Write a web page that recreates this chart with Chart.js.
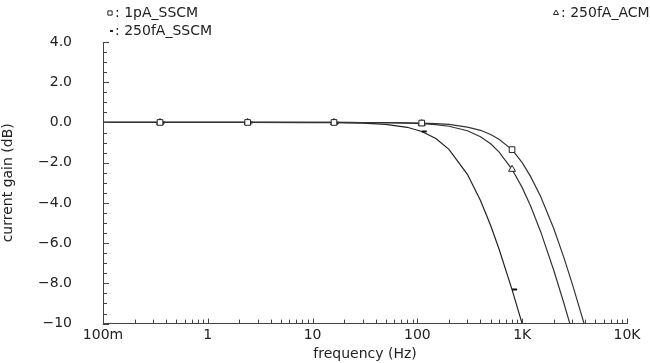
<!DOCTYPE html>
<html>
<head>
<meta charset="utf-8">
<script src="https://cdn.jsdelivr.net/npm/chart.js@4.4.1/dist/chart.umd.min.js"></script>
<style>
  html, body { margin: 0; padding: 0; background: #fff; }
  #wrap { width: 650px; height: 363px; }
</style>
</head>
<body>
<div id="wrap"><canvas id="gainChart"></canvas></div>
<script>
// frequency points (Hz) shared by all three curves
var freqs = [0.1, 0.35, 1, 2.4, 10, 16, 30, 50, 80, 110, 150, 200, 300, 400, 500, 600, 800, 1000, 1200, 1500, 2000, 2500, 3000, 4000];

// current gain (dB)
var gain1pA_SSCM   = [0, 0, 0, 0, 0, 0, -0.002, -0.006, -0.016, -0.03, -0.06, -0.10, -0.23, -0.39, -0.60, -0.84, -1.35, -2.0, -2.68, -3.68, -5.27, -6.72, -8.01, -10.2];
var gain250fA_ACM  = [0, 0, 0, 0, 0, 0, -0.004, -0.012, -0.03, -0.058, -0.11, -0.19, -0.41, -0.71, -1.06, -1.46, -2.33, -3.24, -4.14, -5.43, -7.35, -8.99, -10.4, -12.7];
var gain250fA_SSCM = [0, 0, 0, 0, -0.004, -0.01, -0.035, -0.097, -0.24, -0.45, -0.80, -1.34, -2.58, -3.88, -5.12, -6.28, -8.31, -10.01, -11.46, -13.28, null, null, null, null];

// where the curve markers sit
var markerFreqs = [0.35, 2.4, 16, 110, 800];

// axis labels
var decadeTicks = [0.1, 1, 10, 100, 1000, 10000];
var decadeLabels = ['100m', '1', '10', '100', '1K', '10K'];

var FONT = 'DejaVu Sans';
var INK = '#222';

function toPoints(vals) {
    return freqs.map(function (f, i) { return { x: f, y: vals[i] }; });
}

function markerRadius(r) {
    return function (ctx) {
        return markerFreqs.indexOf(freqs[ctx.dataIndex]) >= 0 ? r : 0;
    };
}

// small inward tick marks on both axes, like the simulator plot
var axisTicks = {
    id: 'axisTicks',
    afterDraw: function (chart) {
        var c = chart.ctx, x = chart.scales.x, y = chart.scales.y;
        var a = chart.chartArea;
        c.save();
        c.strokeStyle = '#444';
        c.lineWidth = 1;
        c.beginPath();
        // x: decades + 2..9 minors
        for (var d = 0.1; d < 10001; d *= 10) {
            for (var k = 1; k <= 9; k++) {
                var v = d * k;
                if (v > 10000.5) break;
                var px = Math.round(x.getPixelForValue(v)) + 0.5;
                var len = (k === 1) ? 5 : 4;
                c.moveTo(px, a.bottom);
                c.lineTo(px, a.bottom - len);
            }
        }
        // y: majors every 2 dB, minors every 0.5 dB
        for (var t = -10; t <= 4.001; t += 0.5) {
            var py = Math.round(y.getPixelForValue(t)) + 0.5;
            var l = (Math.abs(t % 2) < 0.01) ? 6 : 4;
            c.moveTo(a.left, py);
            c.lineTo(a.left + l, py);
        }
        c.stroke();
        c.restore();
    }
};

// legend text in the top-left / top-right like the original
var topLegend = {
    id: 'topLegend',
    afterDraw: function (chart) {
        var c = chart.ctx;
        var items = [
            { style: 'rect', label: ': 1pA_SSCM', x: 110, y: 13, w: 1 },
            { style: 'triangle', label: ': 250fA_ACM', x: 556, y: 13, w: 1 },
            { style: 'dash', label: ': 250fA_SSCM', x: 110, y: 31, w: 2 }
        ];
        c.save();
        c.font = '14px ' + FONT;
        c.textBaseline = 'middle';
        items.forEach(function (it) {
            c.strokeStyle = INK;
            c.fillStyle = '#fff';
            c.lineWidth = it.w;
            Chart.helpers.drawPoint(c, { pointStyle: it.style, radius: 3, rotation: 0, borderWidth: it.w }, it.x, it.y);
            c.fillStyle = INK;
            c.fillText(it.label, it.x + 5, it.y);
        });
        c.restore();
    }
};

var gainChart = new Chart(document.getElementById('gainChart').getContext('2d'), {
    type: 'line',
    data: {
        datasets: [{
            label: '1pA_SSCM',
            data: toPoints(gain1pA_SSCM),
            borderColor: '#333',
            backgroundColor: '#fff',
            borderWidth: 1.2,
            pointStyle: 'rect',
            pointRadius: markerRadius(4),
            pointBorderColor: '#222',
            pointBorderWidth: 1
        }, {
            label: '250fA_ACM',
            data: toPoints(gain250fA_ACM),
            borderColor: '#333',
            backgroundColor: '#fff',
            borderWidth: 1.2,
            pointStyle: 'triangle',
            pointRadius: markerRadius(4),
            pointBorderColor: '#222',
            pointBorderWidth: 1
        }, {
            label: '250fA_SSCM',
            data: toPoints(gain250fA_SSCM),
            borderColor: '#222',
            backgroundColor: '#fff',
            borderWidth: 1.2,
            pointStyle: 'dash',
            pointRadius: markerRadius(5),
            pointBorderColor: '#111',
            pointBorderWidth: 2
        }]
    },
    options: {
        responsive: true,
        maintainAspectRatio: false,
        animation: false,
        layout: { padding: { left: 0, top: 42, right: 23, bottom: 0 } },
        plugins: {
            legend: { display: false },
            tooltip: { enabled: false }
        },
        elements: { line: { tension: 0 } },
        scales: {
            x: {
                type: 'logarithmic',
                min: 0.1,
                max: 10000,
                afterBuildTicks: function (scale) {
                    scale.ticks = decadeTicks.map(function (v) { return { value: v }; });
                },
                afterFit: function (scale) { scale.height = 39; },
                ticks: {
                    autoSkip: false,
                    maxRotation: 0,
                    padding: 3,
                    color: INK,
                    font: { family: FONT, size: 14 },
                    callback: function (v) {
                        var i = decadeTicks.indexOf(v);
                        return i >= 0 ? decadeLabels[i] : '';
                    }
                },
                grid: { drawOnChartArea: false, drawTicks: false },
                border: { color: '#444', width: 1 },
                title: {
                    display: true,
                    text: 'frequency (Hz)',
                    color: INK,
                    font: { family: FONT, size: 14 },
                    padding: { top: 0, bottom: 0 }
                }
            },
            y: {
                min: -10,
                max: 4,
                afterFit: function (scale) { scale.width = 103; },
                ticks: {
                    stepSize: 2,
                    padding: 31,
                    color: INK,
                    font: { family: FONT, size: 14 },
                    callback: function (v) {
                        var s = (v === -10) ? '10' : Math.abs(v).toFixed(1);
                        return v < 0 ? '\u2212' + s : s;
                    }
                },
                grid: { drawOnChartArea: false, drawTicks: false },
                border: { color: '#444', width: 1 },
                title: {
                    display: true,
                    text: 'current gain (dB)',
                    color: INK,
                    font: { family: FONT, size: 14 },
                    padding: { top: 0, bottom: 0 }
                }
            }
        }
    },
    plugins: [axisTicks, topLegend]
});
</script>
</body>
</html>
